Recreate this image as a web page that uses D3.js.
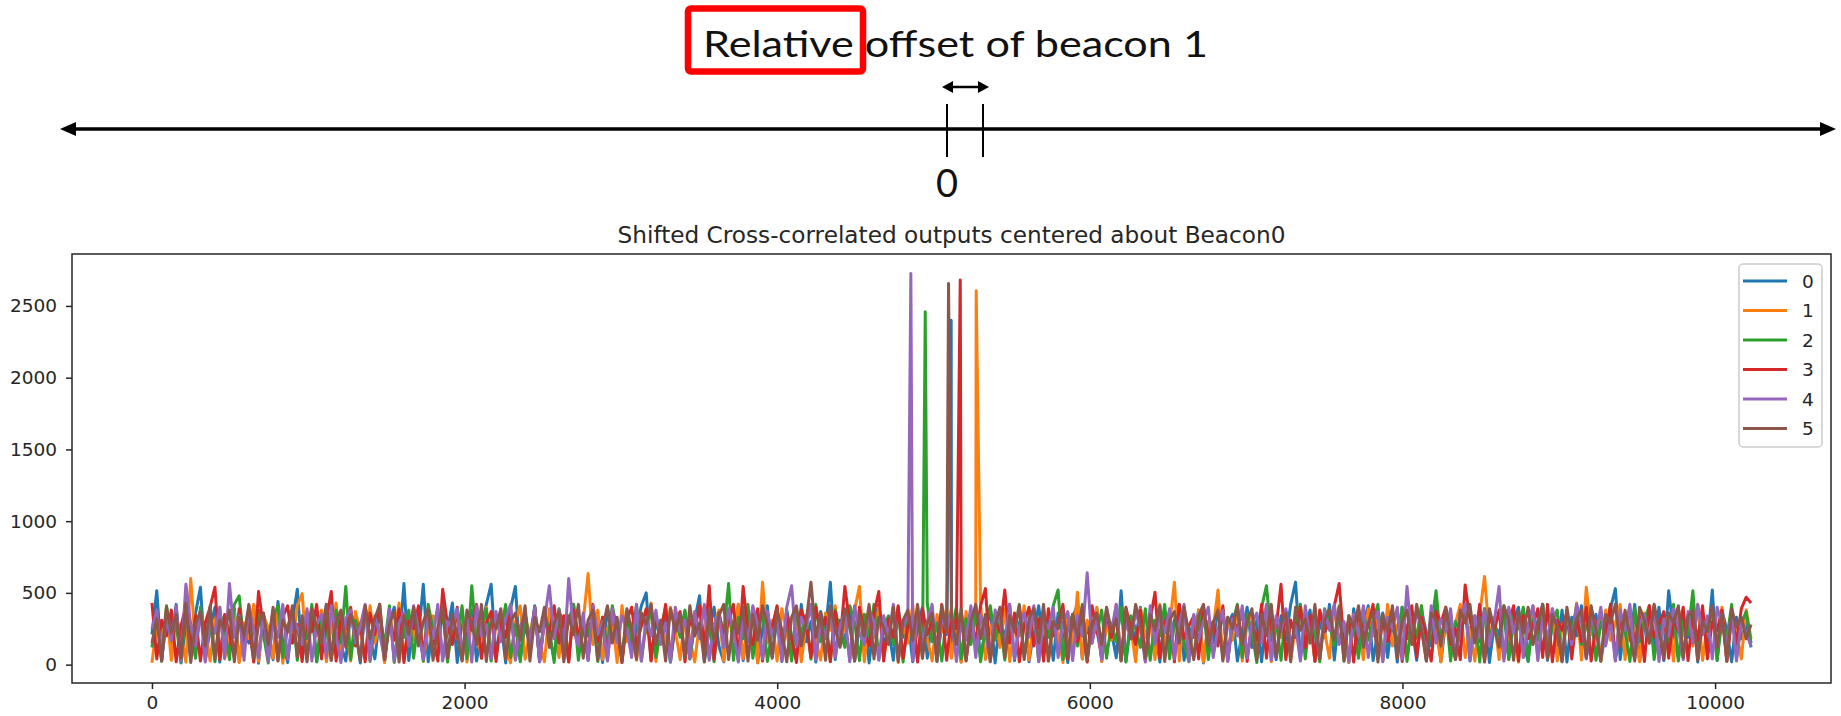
<!DOCTYPE html>
<html><head><meta charset="utf-8">
<script src="https://cdn.jsdelivr.net/npm/d3@7"></script>
<style>body{margin:0;background:#fff;} svg{display:block;}</style>
</head><body><svg id="c" width="1841" height="716"></svg>
<script>
// ---------- data ----------
const chartTitle = "Shifted Cross-correlated outputs centered about Beacon0";
const annoText = "Relative offset of beacon 1";
const annoZero = "0";
const seriesNames = ["0","1","2","3","4","5"];
const colors = ["#1f77b4","#ff7f0e","#2ca02c","#d62728","#9467bd","#8c564b"];
const xTicks = [0,2000,4000,6000,8000,10000];
const yTicks = [0,500,1000,1500,2000,2500];
const xLim = [-511.5, 10741.5];
const yLim = [-128, 2862];
const xLast = 10230;
// correlation peak of each beacon (sample, height)
const spikeX = [5113,5273,4947,5171,4855,5096];
const spikeY = [2400,2605,2459,2680,2726,2656];

const s0 = [210,515,25,330,140,420,12,280,40,360,540,30,250,400,18,300,120,390,22,270,
150,410,10,350,220,35,440,160,15,310,525,45,270,380,20,230,420,30,330,140,
25,370,250,12,410,180,40,340,18,290,400,120,565,28,320,200,560,20,280,380,
38,240,430,15,310,160,380,25,250,420,560,50,300,12,390,545,35,270,150,410,
20,330,200,42,380,260,22,420,140,310,30,360,230,15,400,170,290,25,350,120,
250,410,500,30,320,150,390,18,280,220,370,40,310,480,25,240,400,130,20,340,
190,420,28,290,360,15,250,410,50,330,22,380,200,38,420,160,300,18,370,240,
575,35,310,150,400,25,270,350,12,290,420,130,250,30,380,190,320,20,260,400,
45,340,22,280,210,120,390,18,300,160,410,35,250,370,12,320,180,420,28,290,
380,20,240,410,130,300,30,360,200,15,330,420,40,270,150,390,22,310,230,48,
515,25,290,170,400,35,330,250,18,370,140,310,420,30,260,190,380,12,300,150,
410,40,280,350,25,230,400,120,310,20,370,210,35,340,170,420,575,45,260,380,
22,300,190,420,32,340,250,15,390,140,290,410,28,230,360,50,320,18,400,180,
270,30,380,220,130,410,20,300,350,40,250,420,25,330,160,390,15,280,210,370,
38,310,400,150,22,360,240,420,30,290,130,380,18,330,200,410,45,270,350,25,
240,390,530,35,310,170,420,22,280,360,120,400,28,515,230,40,340,190,420,18,
300,150,520,30,380,240,20,330,180,290,120];

const s1 = [12,280,150,390,30,330,210,18,600,120,360,250,25,310,400,40,230,370,15,290,
180,420,22,340,260,45,390,10,280,150,410,495,30,320,200,380,20,260,430,50,
300,25,370,230,40,410,150,280,15,350,200,430,32,310,170,390,22,250,340,120,
420,28,290,180,380,18,320,240,45,400,30,270,350,130,12,300,410,38,230,360,
150,20,390,270,50,340,25,420,190,300,635,140,380,35,250,330,15,410,160,290,
30,360,220,430,22,310,130,400,240,35,350,180,18,290,410,45,270,380,25,330,
200,420,40,260,370,12,575,150,310,25,390,220,50,340,20,280,420,170,32,360,
240,410,130,300,30,380,545,20,320,190,400,40,260,360,15,290,150,420,28,310,
180,25,350,230,400,45,280,18,370,160,310,420,35,250,340,120,390,22,270,200,
410,32,330,150,380,25,290,220,15,360,130,505,40,310,240,400,22,280,170,420,
45,340,260,20,390,190,300,35,420,140,270,575,25,350,210,50,380,18,300,250,
520,40,330,170,400,25,280,360,120,240,410,20,310,190,380,32,260,420,140,300,
25,370,230,45,410,160,290,18,350,250,35,390,200,320,22,420,130,270,360,40,
300,180,410,30,340,240,20,380,150,290,420,50,260,25,350,615,200,330,35,400,
160,280,18,370,230,410,40,320,140,390,25,260,350,120,430,32,540,210,300,22,
380,170,290,420,35,330,240,20,360,150,410,45,270,340,25,390,200,310,130,420,
30,280,350,160,400,22,320,230,40,380,180];

const s2 = [120,340,25,410,190,280,18,370,230,45,400,160,310,20,360,250,35,420,480,140,
290,25,380,210,12,330,410,50,260,390,30,300,180,420,20,340,240,40,380,150,
545,35,310,220,400,22,270,360,130,410,15,290,190,380,45,330,25,420,250,150,
370,18,300,190,410,40,550,140,260,390,25,320,230,420,50,280,20,360,170,400,
40,340,250,15,390,160,310,420,30,280,200,370,22,330,130,410,240,35,350,180,
420,25,290,360,50,250,400,18,320,190,380,40,270,410,150,300,20,360,220,565,
30,330,180,420,45,280,370,22,240,400,130,310,25,390,210,340,38,420,160,290,
20,380,230,120,410,300,28,350,190,420,35,270,340,140,400,18,310,250,380,45,
430,160,290,25,360,210,400,40,320,140,380,20,270,410,170,300,32,350,230,420,
50,280,390,22,330,190,410,520,35,260,350,130,420,25,300,220,380,45,290,160,
400,18,340,250,120,390,30,310,200,420,40,280,360,150,20,330,240,410,35,300,
170,380,25,290,420,50,350,230,15,400,550,190,310,30,370,140,260,420,40,330,
210,20,390,280,130,410,25,340,240,45,380,170,300,420,32,260,350,120,400,22,
320,190,410,40,270,515,150,380,25,300,230,420,50,340,18,390,200,280,130,410,
35,350,250,400,25,310,170,420,45,290,380,20,330,220,410,140,270,360,30,300,
190,420,40,340,240,22,390,160,310,410,35,270,360,130,420,25,300,210,515,45,
350,240,400,30,310,180,420,50,290,370,150];

const s3 = [430,40,310,200,380,20,270,410,130,340,25,290,400,540,35,350,220,50,390,170,
300,18,510,260,120,380,30,330,410,150,280,22,370,230,420,40,310,510,25,340,
250,400,130,290,20,360,210,420,35,320,170,390,15,300,250,410,50,350,190,25,
525,280,140,400,30,330,240,420,45,290,370,22,310,190,410,38,260,350,120,400,
25,300,230,410,150,340,18,380,210,280,40,420,160,330,30,370,250,15,310,400,
130,270,390,25,340,200,420,45,290,370,20,310,240,410,120,550,35,360,190,300,
420,30,545,230,140,390,25,310,260,410,40,350,180,15,380,290,50,400,220,330,
22,370,160,545,280,35,400,240,130,360,510,25,320,190,410,45,270,350,18,390,
210,300,120,420,30,340,250,380,25,290,170,410,530,40,310,230,520,150,360,20,
280,400,130,320,25,390,200,270,420,38,350,160,300,18,410,240,50,370,190,330,
30,400,250,140,380,25,310,505,45,290,360,20,420,180,270,340,40,390,210,300,
130,410,28,330,240,380,22,290,170,420,45,350,260,560,35,310,190,400,120,340,
25,380,230,290,410,565,150,320,18,390,200,270,420,40,340,160,300,380,22,250,
410,50,330,200,25,370,290,400,140,250,35,555,310,170,420,18,350,230,380,45,
290,410,25,340,180,270,390,50,420,20,310,240,370,40,330,160,400,25,280,350,
200,420,32,300,250,390,130,340,22,410,190,280,370,45,320,230,400,28,350,170,
410,40,300,240,380,25,340,150,390,470,430];

const s4 = [250,380,40,320,170,410,25,560,280,130,370,18,300,220,400,45,565,190,340,30,
410,240,50,360,20,300,190,420,35,330,260,140,390,25,280,350,50,410,200,15,
320,380,150,270,420,30,340,210,45,390,20,290,360,130,410,240,35,330,180,420,
25,300,250,390,50,350,18,410,200,280,40,370,160,320,420,30,260,340,130,400,
20,310,550,180,380,40,600,240,130,360,30,410,210,300,25,390,150,340,250,50,
420,25,330,200,380,140,290,20,400,230,310,45,370,180,420,30,280,350,120,390,
230,18,340,160,410,280,40,370,200,310,25,400,550,130,330,250,420,32,300,180,
390,50,270,360,20,410,220,140,380,300,30,340,190,420,45,260,350,25,400,150,
300,420,35,330,240,390,22,280,170,410,50,350,220,25,380,300,140,420,40,260,
360,190,410,20,320,250,400,50,290,370,28,340,200,640,150,310,35,390,230,420,
30,300,180,360,260,18,410,140,330,220,390,40,280,420,25,350,170,300,400,50,
250,380,22,320,200,410,45,290,360,150,420,30,340,230,390,130,270,25,410,190,
310,40,380,240,420,140,300,25,350,200,410,50,280,370,20,330,250,400,38,545,
180,360,270,25,410,150,320,230,390,45,290,420,30,340,190,380,130,300,545,25,
400,220,350,50,280,410,28,330,180,390,250,20,370,140,420,300,40,360,210,400,
130,310,25,380,240,420,45,290,350,170,410,22,320,200,390,260,35,370,150,420,
210,340,40,400,280,140,360,25,310,220,130];

const s5 = [150,320,25,400,220,350,45,430,15,290,370,130,410,35,310,240,380,20,330,200,
420,40,280,360,140,400,25,310,230,410,50,340,20,390,260,150,420,30,300,380,
120,350,240,25,410,180,320,420,40,280,370,18,340,210,400,130,300,390,30,260,
410,45,350,200,25,380,290,140,420,22,320,250,390,35,300,360,170,410,25,330,
230,400,120,290,370,20,340,210,420,45,310,380,30,260,410,150,330,15,390,240,
40,360,280,420,140,310,25,390,230,350,50,410,200,290,18,380,160,340,420,35,
300,220,400,25,350,170,410,280,45,380,240,20,330,410,130,300,575,190,360,30,
410,250,120,390,300,25,350,200,420,40,330,260,140,400,22,310,380,170,420,45,
290,360,25,410,230,330,140,390,30,300,420,180,350,20,270,400,50,340,230,410,
35,320,390,150,420,25,300,250,380,50,350,200,410,30,290,360,140,400,230,320,
25,390,180,420,280,45,350,240,410,22,310,370,150,400,220,35,340,420,130,290,
380,25,330,250,410,140,300,390,30,350,200,420,50,280,360,20,400,240,320,150,
420,40,310,380,170,400,25,340,260,410,120,290,370,18,350,230,410,45,300,380,
140,420,240,25,360,310,130,400,210,35,380,290,420,150,330,25,390,250,120,410,
310,30,370,220,400,140,290,420,40,350,260,25,400,180,320,380,50,410,240,25,
350,290,420,130,380,200,25,400,310,150,420,240,35,360,290,410,50,340,380,30,
300,230,410,120,350,25,390,260,330,180,280];

const seriesValues = [s0,s1,s2,s3,s4,s5];

// ---------- drawing ----------
const svg = d3.select("#c");
svg.append("rect").attr("width",1841).attr("height",716).attr("fill","#fff");

const plot = {left:72, right:1831, top:254, bottom:683};
const x = d3.scaleLinear().domain(xLim).range([plot.left, plot.right]);
const y = d3.scaleLinear().domain(yLim).range([plot.bottom, plot.top]);

const series = seriesValues.map((vals,k) => {
  const step = xLast/(vals.length-1);
  const pts = vals.map((v,i)=>({x:i*step, y:v}));
  pts.push({x:spikeX[k], y:spikeY[k]});
  pts.sort((a,b)=>a.x-b.x);
  return pts;
});

svg.append("defs").append("clipPath").attr("id","clip")
  .append("rect").attr("x",plot.left).attr("y",plot.top)
  .attr("width",plot.right-plot.left).attr("height",plot.bottom-plot.top);

const line = d3.line().x(d=>x(d.x)).y(d=>y(d.y));
svg.append("g").attr("clip-path","url(#clip)")
  .selectAll("path").data(series).join("path")
  .attr("d",line).attr("fill","none")
  .attr("stroke",(d,i)=>colors[i]).attr("stroke-width",3)
  .attr("stroke-linejoin","round");

// axes
const FONT = "DejaVu Sans, sans-serif";
const gx = svg.append("g").attr("transform",`translate(0,${plot.bottom})`)
  .call(d3.axisBottom(x).tickValues(xTicks).tickFormat(d3.format("d")).tickSize(6).tickPadding(7));
const gy = svg.append("g").attr("transform",`translate(${plot.left},0)`)
  .call(d3.axisLeft(y).tickValues(yTicks).tickFormat(d3.format("d")).tickSize(6).tickPadding(9));
[gx,gy].forEach(g=>{
  g.select(".domain").remove();
  g.selectAll("text").attr("font-family",FONT).attr("font-size",18.5).attr("fill","#262626");
  g.selectAll("line").attr("stroke","#262626").attr("stroke-width",1.5);
});

// frame
svg.append("rect").attr("x",plot.left).attr("y",plot.top)
  .attr("width",plot.right-plot.left).attr("height",plot.bottom-plot.top)
  .attr("fill","none").attr("stroke","#262626").attr("stroke-width",1.5);

// title
svg.append("text").attr("x",(plot.left+plot.right)/2).attr("y",plot.top-11)
  .attr("text-anchor","middle").attr("font-family",FONT).attr("font-size",23.2)
  .attr("fill","#262626").text(chartTitle);

// legend
const lg = svg.append("g");
lg.append("rect").attr("x",1739).attr("y",264).attr("width",83).attr("height",183)
  .attr("rx",4).attr("fill","#fff").attr("fill-opacity",0.8)
  .attr("stroke","#cccccc").attr("stroke-width",1.5);
const rows = lg.selectAll("g.row").data(seriesNames).join("g")
  .attr("transform",(d,i)=>`translate(0,${281 + i*29.5})`);
rows.append("line").attr("x1",1743).attr("x2",1787)
  .attr("stroke",(d,i)=>colors[i]).attr("stroke-width",3);
rows.append("text").attr("x",1802).attr("y",0).attr("dy","0.36em")
  .attr("font-family",FONT).attr("font-size",18.5).attr("fill","#262626").text(d=>d);

// ---------- top annotation (schematic) ----------
const A = svg.append("g");
const AF = "Lato, 'Open Sans', sans-serif";
A.append("text").attr("x",703).attr("y",57).attr("font-family",AF).attr("font-size",37)
  .attr("fill","#111").attr("textLength",505).attr("lengthAdjust","spacingAndGlyphs").text(annoText);
A.append("rect").attr("x",688).attr("y",8.5).attr("width",175).attr("height",63)
  .attr("rx",3).attr("fill","none").attr("stroke","#ff0000").attr("stroke-width",6.5);
const ly = 129;
A.append("line").attr("x1",72).attr("x2",1824).attr("y1",ly).attr("y2",ly)
  .attr("stroke","#000").attr("stroke-width",3.5);
A.append("polygon").attr("points",`60,${ly} 76,${ly-7} 76,${ly+7}`).attr("fill","#000");
A.append("polygon").attr("points",`1836,${ly} 1820,${ly-7} 1820,${ly+7}`).attr("fill","#000");
[947,983].forEach(px=>{
  A.append("line").attr("x1",px).attr("x2",px).attr("y1",104).attr("y2",157)
    .attr("stroke","#000").attr("stroke-width",2);
});
const sy = 87;
A.append("line").attr("x1",950).attr("x2",981).attr("y1",sy).attr("y2",sy)
  .attr("stroke","#000").attr("stroke-width",2.5);
A.append("polygon").attr("points",`942,${sy} 953,${sy-6} 953,${sy+6}`).attr("fill","#000");
A.append("polygon").attr("points",`989,${sy} 978,${sy-6} 978,${sy+6}`).attr("fill","#000");
A.append("text").attr("x",947).attr("y",197).attr("text-anchor","middle")
  .attr("font-family",AF).attr("font-size",38).attr("fill","#111").text(annoZero);
</script></body></html>
